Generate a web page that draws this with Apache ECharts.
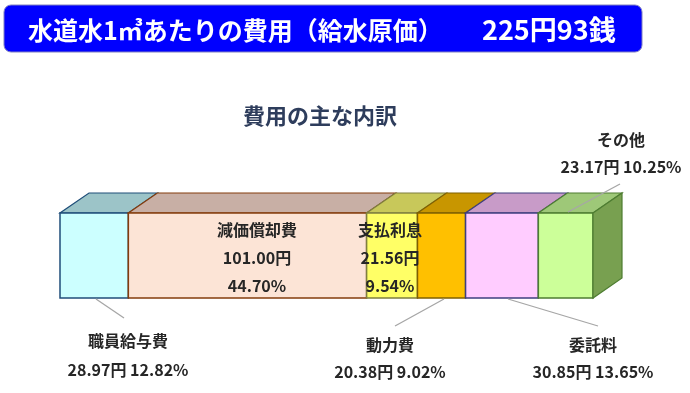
<!DOCTYPE html>
<html><head><meta charset="utf-8">
<script src="https://cdn.jsdelivr.net/npm/echarts@6/dist/echarts.min.js"></script>
<style>html,body{margin:0;padding:0;background:#fff}#c{width:690px;height:393px}</style>
</head><body><div id="c"></div>
<script>
const categories = ['職員給与費','減価償却費','支払利息','動力費','委託料','その他'];
const costs = [28.97, 101.00, 21.56, 20.38, 30.85, 23.17];
const shares = [12.82, 44.70, 9.54, 9.02, 13.65, 10.25];
const totalCost = 225.93;
const titleText = '水道水1㎥あたりの費用（給水原価）';
const totalText = '225円93銭';
const subTitle = '費用の主な内訳';

// styles
const frontColors = ['#CCFFFF','#FCE4D6','#FFFF66','#FFC000','#FFCCFF','#CCFF99'];
const topColors   = ['#9CC4C8','#C8AFA5','#C8C85A','#C89600','#C89BC8','#9EC878'];
const edgeColors  = ['#1F4E79','#843C0C','#7F7F3F','#7F6000','#3F3F7F','#4E7D31'];
const sideColor = '#78A050';
const DX = 29, DY = -20;
const FONT = '"Noto Sans CJK JP", "Noto Sans", sans-serif';
const TXT = '#262626';

const starts = [];
let acc = 0;
costs.forEach(v => { starts.push(acc); acc += v; });
const segData = costs.map((v, i) => [starts[i], starts[i] + v, i]);

function renderItem(params, api) {
  const i = api.value(2);
  const p0 = api.coord([api.value(0), 0]);
  const p1 = api.coord([api.value(1), 0]);
  const h = api.size([0, 1])[1];
  const x0 = p0[0], x1 = p1[0];
  const y0 = p0[1] - h / 2, y1 = p0[1] + h / 2;
  const children = [
    { type: 'polygon', shape: { points: [[x0, y0], [x1, y0], [x1 + DX, y0 + DY], [x0 + DX, y0 + DY]] },
      style: { fill: topColors[i], stroke: edgeColors[i], lineWidth: 1.2 } },
    { type: 'rect', shape: { x: x0, y: y0, width: x1 - x0, height: y1 - y0 },
      style: { fill: frontColors[i], stroke: edgeColors[i], lineWidth: 1.5 } }
  ];
  if (i === costs.length - 1) {
    children.push({ type: 'polygon', shape: { points: [[x1, y0], [x1 + DX, y0 + DY], [x1 + DX, y1 + DY], [x1, y1]] },
      style: { fill: sideColor, stroke: edgeColors[i], lineWidth: 1.2 } });
  }
  return { type: 'group', children };
}

const fmtCost = v => v.toFixed(2) + '円';
const fmtShare = v => v.toFixed(2) + '%';

// label layout: [centerX, nameY, valueY, mode]
const labelLayout = [
  [128, 341, 370, 'out'],
  [257, 230, 258, 'in'],
  [390, 230, 258, 'in'],
  [390, 345, 372, 'out'],
  [593, 345, 372, 'out'],
  [621, 140, 167, 'out']
];
const leaderLines = [
  [96, 299, 124, 318],
  null, null,
  [444, 299, 395, 326],
  [508, 299, 598, 326],
  [620, 184, 568, 212]
];

const graphics = [
  { type: 'rect', shape: { x: 4, y: 5, width: 638, height: 47, r: 7 },
    style: { fill: '#0000FF', stroke: '#8080C0', lineWidth: 1 } },
  { type: 'text', x: 28, y: 30, style: { text: titleText, fill: '#fff', font: 'bold 25px ' + FONT, verticalAlign: 'middle' } },
  { type: 'text', x: 482, y: 30, style: { text: totalText, fill: '#fff', font: 'bold 27px ' + FONT, verticalAlign: 'middle' } },
  { type: 'text', x: 320, y: 116, style: { text: subTitle, fill: '#2E3D5C', font: 'bold 22px ' + FONT, align: 'center', verticalAlign: 'middle' } }
];
categories.forEach((name, i) => {
  const L = labelLayout[i];
  const font = 'bold 16px ' + FONT;
  graphics.push({ type: 'text', z: 10, x: L[0], y: L[1], style: { text: name, fill: TXT, font, align: 'center', verticalAlign: 'middle' } });
  if (L[3] === 'in') {
    graphics.push({ type: 'text', z: 10, x: L[0], y: L[2], style: { text: fmtCost(costs[i]), fill: TXT, font, align: 'center', verticalAlign: 'middle' } });
    graphics.push({ type: 'text', z: 10, x: L[0], y: L[2] + 28, style: { text: fmtShare(shares[i]), fill: TXT, font, align: 'center', verticalAlign: 'middle' } });
  } else {
    graphics.push({ type: 'text', z: 10, x: L[0], y: L[2], style: { text: fmtCost(costs[i]) + ' ' + fmtShare(shares[i]), fill: TXT, font, align: 'center', verticalAlign: 'middle' } });
  }
  const ln = leaderLines[i];
  if (ln) graphics.push({ type: 'line', z: 10, shape: { x1: ln[0], y1: ln[1], x2: ln[2], y2: ln[3] }, style: { stroke: '#A6A6A6', lineWidth: 1.3 } });
});

const chart = echarts.init(document.getElementById('c'), null, { renderer: 'canvas' });
chart.setOption({
  animation: false,
  grid: { left: 60, right: 97, top: 213, bottom: 95 },
  xAxis: { type: 'value', min: 0, max: totalCost, show: false },
  yAxis: { type: 'category', data: [''], show: false },
  series: [{ type: 'custom', renderItem, data: segData, encode: { x: [0, 1] }, clip: false }],
  graphic: graphics
});
</script></body></html>
